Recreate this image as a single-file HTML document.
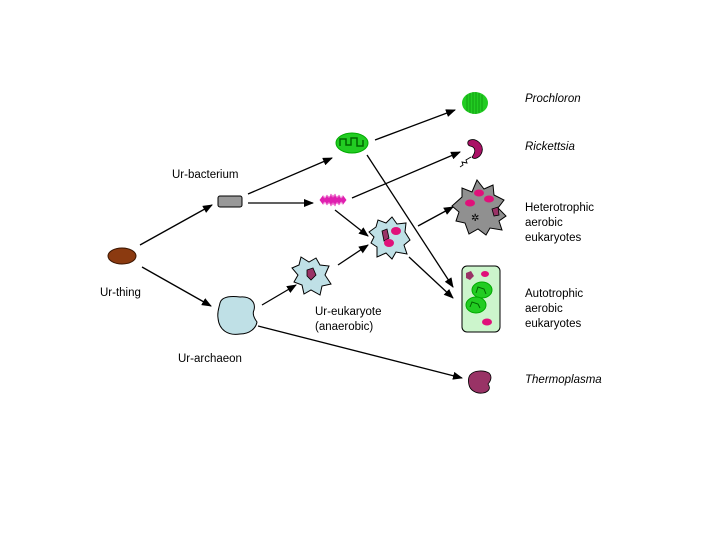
<!DOCTYPE html>
<html><head><style>
body{margin:0;background:#fff;}
svg{display:block;}
text{font-family:"Liberation Sans",sans-serif;font-size:11.5px;fill:#000;}
.i{font-style:italic;}
</style></head><body>
<svg width="720" height="540" viewBox="0 0 720 540">
<defs>
<marker id="a" markerWidth="10" markerHeight="8" refX="9" refY="4" orient="auto" markerUnits="userSpaceOnUse">
<path d="M0,0 L10,4 L0,8 Z" fill="#000"/></marker>
</defs>
<g stroke="#000" stroke-width="1.3" fill="none" marker-end="url(#a)">
<line x1="140" y1="245" x2="212" y2="205"/>
<line x1="142" y1="267" x2="211" y2="306"/>
<line x1="262" y1="305" x2="296" y2="285"/>
<line x1="338" y1="265" x2="368" y2="245"/>
<line x1="248" y1="203" x2="313" y2="203"/>
<line x1="335" y1="210" x2="368" y2="236"/>
<line x1="248" y1="194" x2="332" y2="158"/>
<line x1="375" y1="140" x2="455" y2="110"/>
<line x1="352" y1="198" x2="460" y2="152"/>
<line x1="418" y1="226" x2="453" y2="207"/>
<line x1="367" y1="155" x2="453" y2="287"/>
<line x1="409" y1="257" x2="453" y2="298"/>
<line x1="258" y1="326" x2="462" y2="378"/>
</g>
<ellipse cx="122" cy="256" rx="14" ry="8" fill="#8b3a10" stroke="#3a1500"/>
<rect x="218" y="196" width="24" height="11" rx="2" fill="#999" stroke="#000"/>
<path d="M220,303 C222,296 232,296 240,297 C250,296 256,302 254,310 C252,314 254,318 257,322 C256,328 250,334 240,334 C228,336 219,330 218,318 C217,312 219,308 220,303 Z" fill="#bfe0e6" stroke="#000"/>
<path d="M292,268 L299,265 L301,257 L309,262 L316,258 L320,265 L329,266 L325,275 L331,284 L322,286 L320,295 L311,290 L304,294 L302,285 L294,282 L298,275 Z" fill="#bfe0e6" stroke="#000"/>
<path d="M307,270 L313,268 L316,275 L311,280 L307,276 Z" fill="#993366" stroke="#000" stroke-width="0.8"/>
<path d="M369,232 L376,227 L378,220 L386,223 L392,217 L397,224 L406,223 L405,232 L410,240 L404,245 L407,254 L396,252 L392,259 L386,253 L377,257 L377,247 L371,243 L374,237 Z" fill="#bfe0e6" stroke="#000"/>
<path d="M382,231 L387,229 L389,238 L384,241 Z" fill="#993366" stroke="#000" stroke-width="0.8"/>
<ellipse cx="396" cy="231" rx="5" ry="4" fill="#e0107a"/>
<ellipse cx="389" cy="243" rx="5" ry="4" fill="#e0107a"/>
<path d="M320,200 L323,196 L325,203 L327,195 L329,204 L331,194 L333,205 L335,194 L337,204 L339,195 L341,203 L343,196 L346,200 L343,204 L341,197 L339,205 L337,196 L335,206 L333,195 L331,206 L329,196 L327,205 L325,197 L323,204 Z" fill="#e020b0" stroke="#e020b0" stroke-width="0.8"/>
<ellipse cx="352" cy="143" rx="16" ry="10" fill="#22cc22" stroke="#0a0"/>
<path d="M340,146 L340,139 L346,139 L346,145 L351,145 L351,138 L357,138 L357,146 L363,146 L363,140" stroke="#006600" stroke-width="1.5" fill="none"/>
<ellipse cx="475" cy="103" rx="13" ry="11" fill="#22cc22"/>
<g stroke="#0a8a0a" stroke-width="0.7"><line x1="467" y1="95" x2="467" y2="111"/><line x1="470" y1="93" x2="470" y2="113"/><line x1="473" y1="92" x2="473" y2="114"/><line x1="476" y1="92" x2="476" y2="114"/><line x1="479" y1="93" x2="479" y2="113"/><line x1="482" y1="95" x2="482" y2="111"/></g>
<path d="M470,140 C476,138 484,144 482,152 C480,158 474,160 472,157 C476,152 476,147 470,146 C467,145 467,141 470,140 Z" fill="#aa1166" stroke="#000" stroke-width="0.8"/>
<path d="M471,157 L466,160 L467,163 L462,162 L463,165 L460,167" stroke="#000" stroke-width="0.9" fill="none"/>
<path d="M452,206 L462,197 L462,188 L472,192 L477,180 L484,189 L493,185 L494,195 L504,200 L498,208 L506,216 L499,221 L502,230 L490,228 L486,235 L478,229 L469,234 L465,223 L456,221 L459,212 Z" fill="#909090" stroke="#000"/>
<ellipse cx="479" cy="193" rx="5" ry="3.5" fill="#e0107a"/>
<ellipse cx="470" cy="203" rx="5" ry="3.5" fill="#e0107a"/>
<ellipse cx="489" cy="199" rx="5" ry="3.5" fill="#e0107a"/>
<path d="M492,209 L498,207 L499,215 L494,216 Z" fill="#993366" stroke="#000" stroke-width="0.8"/>
<text x="471" y="221" style="font-size:10px">✲</text>
<rect x="462" y="266" width="38" height="66" rx="5" fill="#ccf5cc" stroke="#000"/>
<path d="M466,273 L471,271 L474,276 L470,280 L466,278 Z" fill="#993366"/>
<ellipse cx="485" cy="274" rx="4" ry="3" fill="#e0107a"/>
<ellipse cx="482" cy="290" rx="10" ry="8" fill="#22cc22" stroke="#0a0"/>
<ellipse cx="476" cy="305" rx="10" ry="8" fill="#22cc22" stroke="#0a0"/>
<path d="M476,293 L478,287 L484,289 L486,294" stroke="#006600" fill="none"/>
<path d="M470,307 L472,302 L478,304 L480,308" stroke="#006600" fill="none"/>
<ellipse cx="487" cy="322" rx="5" ry="3.5" fill="#e0107a"/>
<path d="M470,375 C474,370 484,370 489,373 C493,377 490,382 488,384 C491,388 489,392 483,393 C476,394 470,390 469,385 C468,381 468,378 470,375 Z" fill="#993366" stroke="#000" stroke-width="0.8"/>
<text x="172" y="178">Ur-bacterium</text>
<text x="100" y="296">Ur-thing</text>
<text x="178" y="362">Ur-archaeon</text>
<text x="315" y="315">Ur-eukaryote</text>
<text x="315" y="330">(anaerobic)</text>
<text x="525" y="102" class="i">Prochloron</text>
<text x="525" y="150" class="i">Rickettsia</text>
<text x="525" y="211">Heterotrophic</text>
<text x="525" y="226">aerobic</text>
<text x="525" y="241">eukaryotes</text>
<text x="525" y="297">Autotrophic</text>
<text x="525" y="312">aerobic</text>
<text x="525" y="327">eukaryotes</text>
<text x="525" y="383" class="i">Thermoplasma</text>
</svg>
</body></html>
